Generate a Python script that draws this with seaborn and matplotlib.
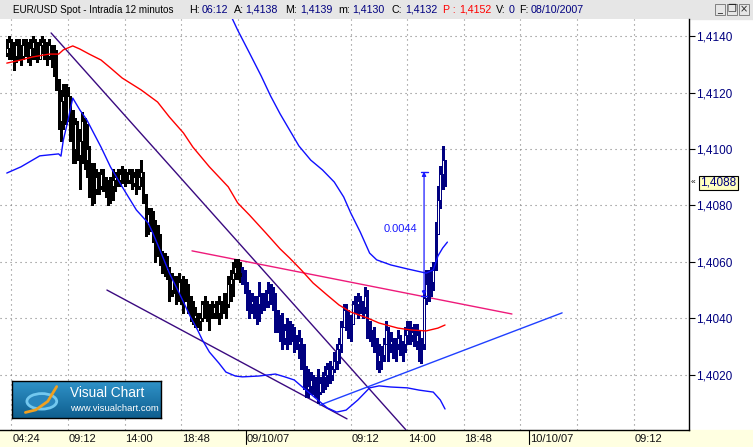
import numpy as np
import matplotlib
matplotlib.use("Agg")
import matplotlib.pyplot as plt
from matplotlib.patches import Rectangle, Ellipse
import seaborn as sns

# ── Data: EUR/USD 12-minute bars (bar index 0 = 08/10 04:00) ──
hi = [1.4139, 1.4140, 1.4139, 1.4138, 1.4139, 1.4139, 1.4137, 1.4139, 1.4139, 1.4138,
      1.4139, 1.4140, 1.4139, 1.4138, 1.4139, 1.4140, 1.4139, 1.4138, 1.4139, 1.4137,
      1.4137, 1.4135, 1.4125, 1.4121, 1.4123, 1.4123, 1.4122, 1.4117, 1.4114, 1.4111,
      1.4110, 1.4107, 1.4113, 1.4111, 1.4109, 1.4101, 1.4095, 1.4095, 1.4093, 1.4092,
      1.4093, 1.4093, 1.4090, 1.4089, 1.4090, 1.4093, 1.4092, 1.4093, 1.4093, 1.4094,
      1.4093, 1.4092, 1.4093, 1.4093, 1.4092, 1.4093, 1.4093, 1.4096, 1.4092, 1.4084,
      1.4079, 1.4079, 1.4078, 1.4075, 1.4073, 1.4070, 1.4064, 1.4063, 1.4062, 1.4058,
      1.4056, 1.4055, 1.4055, 1.4056, 1.4054, 1.4055, 1.4054, 1.4052, 1.4048, 1.4046,
      1.4044, 1.4042, 1.4042, 1.4046, 1.4048, 1.4046, 1.4045, 1.4046, 1.4045, 1.4046,
      1.4048, 1.4046, 1.4049, 1.4049, 1.4055, 1.4057, 1.4060, 1.4061, 1.4061, 1.4060,
      1.4058, 1.4057, 1.4053, 1.4050, 1.4049, 1.4048, 1.4048, 1.4053, 1.4049, 1.4049,
      1.4050, 1.4053, 1.4052, 1.4051, 1.4049, 1.4043, 1.4041, 1.4042, 1.4038, 1.4040,
      1.4039, 1.4038, 1.4037, 1.4034, 1.4036, 1.4033, 1.4031, 1.4023, 1.4022, 1.4021,
      1.4020, 1.4019, 1.4022, 1.4019, 1.4021, 1.4023, 1.4024, 1.4025, 1.4023, 1.4028,
      1.4031, 1.4033, 1.4039, 1.4045, 1.4045, 1.4043, 1.4041, 1.4046, 1.4048, 1.4049,
      1.4048, 1.4046, 1.4051, 1.4050, 1.4039, 1.4036, 1.4037, 1.4033, 1.4031, 1.4030,
      1.4033, 1.4039, 1.4037, 1.4035, 1.4033, 1.4033, 1.4036, 1.4034, 1.4032, 1.4037,
      1.4039, 1.4039, 1.4037, 1.4038, 1.4038, 1.4036, 1.4033, 1.4050, 1.4057, 1.4057,
      1.4058, 1.4060, 1.4074, 1.4087, 1.4094, 1.4101, 1.4095]
lo = [1.4133, 1.4132, 1.4132, 1.4128, 1.4131, 1.4132, 1.4130, 1.4132, 1.4133, 1.4131,
      1.4130, 1.4132, 1.4132, 1.4131, 1.4133, 1.4134, 1.4132, 1.4130, 1.4132, 1.4129,
      1.4126, 1.4121, 1.4107, 1.4103, 1.4107, 1.4109, 1.4110, 1.4103, 1.4095, 1.4095,
      1.4096, 1.4086, 1.4095, 1.4093, 1.4090, 1.4083, 1.4080, 1.4081, 1.4084, 1.4084,
      1.4086, 1.4085, 1.4083, 1.4080, 1.4081, 1.4082, 1.4085, 1.4087, 1.4087, 1.4088,
      1.4087, 1.4088, 1.4088, 1.4086, 1.4087, 1.4084, 1.4086, 1.4087, 1.4081, 1.4069,
      1.4070, 1.4071, 1.4067, 1.4060, 1.4062, 1.4059, 1.4056, 1.4055, 1.4054, 1.4046,
      1.4048, 1.4049, 1.4045, 1.4046, 1.4045, 1.4042, 1.4046, 1.4042, 1.4039, 1.4038,
      1.4037, 1.4037, 1.4036, 1.4039, 1.4040, 1.4039, 1.4036, 1.4040, 1.4040, 1.4040,
      1.4038, 1.4040, 1.4042, 1.4040, 1.4044, 1.4046, 1.4048, 1.4054, 1.4054, 1.4053,
      1.4052, 1.4049, 1.4043, 1.4040, 1.4042, 1.4040, 1.4038, 1.4039, 1.4042, 1.4043,
      1.4044, 1.4044, 1.4045, 1.4043, 1.4035, 1.4035, 1.4032, 1.4029, 1.4031, 1.4029,
      1.4031, 1.4032, 1.4028, 1.4029, 1.4026, 1.4022, 1.4015, 1.4012, 1.4012, 1.4013,
      1.4013, 1.4012, 1.4010, 1.4013, 1.4014, 1.4015, 1.4016, 1.4017, 1.4018, 1.4021,
      1.4022, 1.4024, 1.4028, 1.4037, 1.4036, 1.4033, 1.4032, 1.4038, 1.4042, 1.4040,
      1.4042, 1.4040, 1.4042, 1.4033, 1.4032, 1.4030, 1.4028, 1.4022, 1.4021, 1.4022,
      1.4025, 1.4031, 1.4025, 1.4028, 1.4026, 1.4025, 1.4029, 1.4027, 1.4025, 1.4028,
      1.4031, 1.4031, 1.4032, 1.4030, 1.4029, 1.4025, 1.4024, 1.4029, 1.4045, 1.4046,
      1.4048, 1.4050, 1.4057, 1.4071, 1.4079, 1.4086, 1.4087]
cl = [1.4136, 1.4138, 1.4134, 1.4133, 1.4137, 1.4135, 1.4133, 1.4137, 1.4136, 1.4133,
      1.4136, 1.4138, 1.4134, 1.4132, 1.4137, 1.4138, 1.4135, 1.4133, 1.4137, 1.4132,
      1.4128, 1.4123, 1.4110, 1.4117, 1.4119, 1.4111, 1.4119, 1.4107, 1.4100, 1.4109,
      1.4098, 1.4103, 1.4110, 1.4096, 1.4100, 1.4087, 1.4091, 1.4086, 1.4090, 1.4087,
      1.4091, 1.4088, 1.4086, 1.4084, 1.4087, 1.4089, 1.4090, 1.4089, 1.4091, 1.4090,
      1.4090, 1.4089, 1.4091, 1.4088, 1.4090, 1.4087, 1.4090, 1.4092, 1.4084, 1.4073,
      1.4077, 1.4074, 1.4070, 1.4068, 1.4065, 1.4062, 1.4060, 1.4057, 1.4058, 1.4050,
      1.4054, 1.4052, 1.4049, 1.4053, 1.4048, 1.4051, 1.4048, 1.4045, 1.4043, 1.4040,
      1.4041, 1.4039, 1.4040, 1.4045, 1.4043, 1.4041, 1.4044, 1.4042, 1.4044, 1.4042,
      1.4045, 1.4043, 1.4046, 1.4045, 1.4052, 1.4054, 1.4056, 1.4058, 1.4056, 1.4055,
      1.4054, 1.4051, 1.4046, 1.4045, 1.4046, 1.4043, 1.4045, 1.4048, 1.4045, 1.4047,
      1.4046, 1.4049, 1.4048, 1.4046, 1.4041, 1.4038, 1.4036, 1.4033, 1.4036, 1.4032,
      1.4037, 1.4034, 1.4032, 1.4031, 1.4032, 1.4029, 1.4018, 1.4015, 1.4016, 1.4018,
      1.4015, 1.4016, 1.4014, 1.4017, 1.4019, 1.4020, 1.4022, 1.4020, 1.4022, 1.4025,
      1.4029, 1.4031, 1.4037, 1.4043, 1.4039, 1.4040, 1.4038, 1.4045, 1.4045, 1.4046,
      1.4046, 1.4044, 1.4048, 1.4038, 1.4034, 1.4033, 1.4031, 1.4025, 1.4027, 1.4027,
      1.4031, 1.4036, 1.4031, 1.4032, 1.4029, 1.4031, 1.4033, 1.4029, 1.4031, 1.4034,
      1.4036, 1.4034, 1.4035, 1.4032, 1.4034, 1.4029, 1.4031, 1.4047, 1.4052, 1.4054,
      1.4053, 1.4057, 1.4070, 1.4082, 1.4091, 1.4096, 1.4088]
first_open = 1.4134
day2_start = 100

# moving average (red)
ma_i = [0, 6, 11, 18, 22, 24, 28, 31, 35, 40, 44, 49, 57, 64, 69, 75, 79, 86, 94, 98,
        103, 110, 116, 120, 125, 130, 136, 141, 146, 153, 158, 166, 172, 178, 183, 186]
ma_p = [1.41305, 1.41316, 1.41327, 1.41337, 1.41337, 1.41352, 1.41366, 1.41355, 1.41337, 1.41316,
        1.41288, 1.41252, 1.41210, 1.41167, 1.41114, 1.41057, 1.41007, 1.40937, 1.40866, 1.40809,
        1.40766, 1.40702, 1.40646, 1.40614, 1.40571, 1.40525, 1.40482, 1.40447, 1.40422, 1.40401,
        1.40383, 1.40365, 1.40358, 1.40355, 1.40365, 1.40376]
# bands (blue)
bb_lo_i = [0, 6, 14, 22, 23, 24, 26, 28, 31, 34, 40, 44, 49, 55, 60, 62, 65, 69, 74, 78,
           81, 83, 86, 90, 93, 97, 100, 107, 114, 118, 122, 127, 132, 136, 140, 144, 149,
           154, 158, 163, 170, 175, 181, 184, 186]
bb_lo_p = [1.40915, 1.40937, 1.40976, 1.40983, 1.40975, 1.41032, 1.41103, 1.41181, 1.41139, 1.41103,
           1.41007, 1.40937, 1.40866, 1.40784, 1.40738, 1.40702, 1.40642, 1.40560, 1.40475, 1.40404,
           1.40358, 1.40323, 1.40280, 1.40241, 1.40209, 1.40195, 1.40192, 1.40195, 1.40202, 1.40192,
           1.40181, 1.40145, 1.40110, 1.40082, 1.40067, 1.40074, 1.40110, 1.40153, 1.40160, 1.40156,
           1.40153, 1.40145, 1.40138, 1.40110, 1.40078]
bb_up_i = [94, 98, 103, 108, 112, 116, 120, 124, 129, 134, 139, 143, 146, 150, 154, 157,
           163, 170, 178, 181, 183, 185, 187]
bb_up_p = [1.41493, 1.41422, 1.41341, 1.41259, 1.41188, 1.41125, 1.41068, 1.41011, 1.40961, 1.40926,
           1.40883, 1.40830, 1.40773, 1.40706, 1.40631, 1.40607, 1.40589, 1.40575, 1.40560, 1.40571,
           1.40621, 1.40649, 1.40670]

# drawn trend lines (bar index, price)
chan_hi_i, chan_hi_p = [18.8, 169.4], [1.41412, 1.40004]
chan_lo_i, chan_lo_p = [42.5, 144.4], [1.40500, 1.40043]
resist_i, resist_p = [78.6, 214.4], [1.40639, 1.40415]
support_i, support_p = [132.9, 235.7], [1.40092, 1.40419]
meas_i, meas_from, meas_to = 177.1, 1.4048, 1.4092
meas_label = "0.0044"
last_price = 1.4088

tick_pos = [2, 26, 50, 74, 98, 122, 146, 170, 194, 218, 242, 266]
tick_lbl = ["04:24", "09:12", "14:00", "18:48", "", "", "09:12", "14:00", "18:48", "", "", "09:12"]
date_pos = [101.5, 221.5]
date_lbl = ["09/10/07", "10/10/07"]
price_ticks = [1.4020, 1.4040, 1.4060, 1.4080, 1.4100, 1.4120, 1.4140]

header = [(13, "EUR/USD Spot - Intradía 12 minutos", "black"), (189, "H:", "black"),
          (202, "06:12", "#000080"), (234, "A:", "black"), (245, "1,4138", "#000080"),
          (285, "M:", "black"), (300, "1,4139", "#000080"), (338, "m:", "black"),
          (352, "1,4130", "#000080"), (392, "C:", "black"), (405, "1,4132", "#000080"),
          (443, "P :", "red"), (459, "1,4152", "red"), (496, "V:", "black"),
          (509, "0", "#000080"), (519, "F:", "black"), (531, "08/10/2007", "#000080")]

# ── Style ──
sns.set_style("white")
plt.rcParams["font.family"] = ["Liberation Sans", "DejaVu Sans"]

W, H = 753, 447
fig = plt.figure(figsize=(W / 100, H / 100), dpi=100)


def box(x0, y0, x1, y1):
    return [x0 / W, 1 - y1 / H, (x1 - x0) / W, (y1 - y0) / H]


fig.patches.append(Rectangle((0, 1 - 19 / H), 1, 19 / H, transform=fig.transFigure,
                             color="#e6e6e6", zorder=-5))
fig.patches.append(Rectangle((0, 0), 1, 17 / H, transform=fig.transFigure,
                             color="#ffffe1", zorder=-5))

ax = fig.add_axes(box(0, 19, 689, 430))
ax.set_facecolor("white")

# ── Candles ──
hi_a, lo_a, cl_a = np.array(hi), np.array(lo), np.array(cl)
idx = np.arange(len(cl_a))
op_a = np.r_[first_open, cl_a[:-1]]
col = np.where(idx < day2_start, "black", "#000080")
top = np.maximum(hi_a, np.maximum(op_a, cl_a))
bot = np.minimum(lo_a, np.minimum(op_a, cl_a))
ax.vlines(idx, bot, top, colors=col, linewidth=0.9, zorder=4, antialiased=False)
body_lo = np.minimum(op_a, cl_a)
body_h = np.maximum(np.abs(cl_a - op_a), 0.00004)
face = np.where(cl_a >= op_a, "white", col)
ax.bar(idx, body_h, bottom=body_lo, width=0.75, color=face, edgecolor=col,
       linewidth=0.7, zorder=5, antialiased=False)

# ── Indicators ──
sns.lineplot(x=ma_i, y=ma_p, ax=ax, color="#ff0000", linewidth=1.0,
             estimator=None, sort=False, zorder=6)
sns.lineplot(x=bb_lo_i, y=bb_lo_p, ax=ax, color="#1010ff", linewidth=1.0,
             estimator=None, sort=False, zorder=6)
sns.lineplot(x=bb_up_i, y=bb_up_p, ax=ax, color="#1010ff", linewidth=1.0,
             estimator=None, sort=False, zorder=6)

ax.plot(chan_hi_i, chan_hi_p, color="#3a0a80", lw=1.0, zorder=3)
ax.plot(chan_lo_i, chan_lo_p, color="#3a0a80", lw=1.0, zorder=3)
ax.plot(resist_i, resist_p, color="#ee1a7a", lw=1.0, zorder=3)
ax.plot(support_i, support_p, color="#2040ff", lw=1.0, zorder=3)

# measurement
mc = "#1a1aff"
ax.annotate("", xy=(meas_i, meas_from), xytext=(meas_i, meas_to),
            arrowprops=dict(arrowstyle="<|-|>", color=mc, lw=0.9, mutation_scale=6,
                            shrinkA=0, shrinkB=0), zorder=7)
ax.plot([meas_i - 1.5, meas_i + 1.5], [meas_to, meas_to], color=mc, lw=1.0, zorder=7)
ax.plot([meas_i - 1.2, meas_i + 1.2], [meas_from, meas_from], color=mc, lw=1.0, zorder=7)
ax.text(meas_i - 10.2, (meas_from + meas_to) / 2 + 0.00015, meas_label, color=mc,
        fontsize=8, ha="center", va="center", zorder=7)

# ── Axes ──
ax.set_xlim(-2.88, 289.55)
ax.set_ylim(1.400035, 1.414615)
ax.set_xticks(tick_pos)
ax.set_xticklabels([])
ax.set_yticks(price_ticks)
ax.yaxis.tick_right()
ax.set_yticklabels([f"{v:.4f}".replace(".", ",") for v in price_ticks])
ax.tick_params(axis="y", direction="out", length=4, width=0.8, pad=1,
               labelsize=8.5, labelcolor="#000080", color="black")
ax.tick_params(axis="x", direction="out", length=4, width=0.8, color="black")
ax.grid(True, color="#808080", linestyle=(0, (1, 3.5)), linewidth=0.8)
ax.set_axisbelow(True)
for side in ["left", "top"]:
    ax.spines[side].set_visible(False)
for side in ["right", "bottom"]:
    ax.spines[side].set_color("black")
    ax.spines[side].set_linewidth(1.0)

xtr = ax.get_xaxis_transform()
for p, lbl in zip(tick_pos, tick_lbl):
    if lbl:
        ax.text(p + 0.3, -0.021, lbl, transform=xtr, fontsize=8, color="#111111",
                ha="left", va="center", clip_on=False)
for p, lbl in zip(date_pos, date_lbl):
    ax.plot([p, p], [0, -0.033], transform=xtr, color="black", lw=0.8, clip_on=False)
    ax.text(p + 0.5, -0.021, lbl, transform=xtr, fontsize=8, color="#111111",
            ha="left", va="center", clip_on=False)

ytr = ax.get_yaxis_transform()
ax.text(1.0 + 11 / 689, last_price, f"{last_price:.4f}".replace(".", ","), transform=ytr,
        fontsize=8.5, color="#000080", ha="left", va="center", clip_on=False,
        bbox=dict(boxstyle="square,pad=0.12", fc="#ffffc0", ec="black", lw=0.8))
ax.text(1.0 + 2 / 689, last_price, "«", transform=ytr, fontsize=6, color="black",
        ha="left", va="center", clip_on=False)

# ── Header ──
for k, (x, txt, c) in enumerate(header):
    fs = 7.1 if k == 0 else 7.7
    fig.text(x / W, 1 - 10 / H, txt, fontsize=fs, color=c, ha="left", va="center")
for k, g in enumerate(["_", "❐", "×"]):
    x0 = 715 + k * 12
    fig.patches.append(Rectangle((x0 / W, 1 - 15 / H), 10 / W, 11 / H,
                                 transform=fig.transFigure, fc="#e6e6e6",
                                 ec="#707070", lw=0.6, zorder=1))
    fig.text((x0 + 5) / W, 1 - 9.5 / H, g, fontsize=7, ha="center", va="center",
             family=["DejaVu Sans"])

# ── Logo ──
lax = fig.add_axes(box(12, 381, 161, 418))
grad = np.linspace(0, 1, 40)[:, None]
cmap = matplotlib.colors.LinearSegmentedColormap.from_list("vc", ["#2f92c8", "#0f5f8f"])
lax.imshow(grad, cmap=cmap, aspect="auto", extent=[0, 1, 0, 1])
lax.add_patch(Ellipse((0.2, 0.45), 0.2, 0.42, fc="#2a86bd", ec="#73c8ef", lw=2))
lax.plot([0.09, 0.16, 0.24, 0.30], [0.15, 0.22, 0.45, 0.85], color="#f0a020", lw=2)
lax.text(0.39, 0.68, "Visual Chart", color="white", fontsize=9.8, va="center", ha="left")
lax.text(0.39, 0.27, "www.visualchart.com", color="white", fontsize=6.8, va="center", ha="left")
lax.set_xlim(0, 1)
lax.set_ylim(0, 1)
lax.set_xticks([])
lax.set_yticks([])
for s in lax.spines.values():
    s.set_color("black")
    s.set_linewidth(1.0)

fig.savefig("out.png", dpi=100)
